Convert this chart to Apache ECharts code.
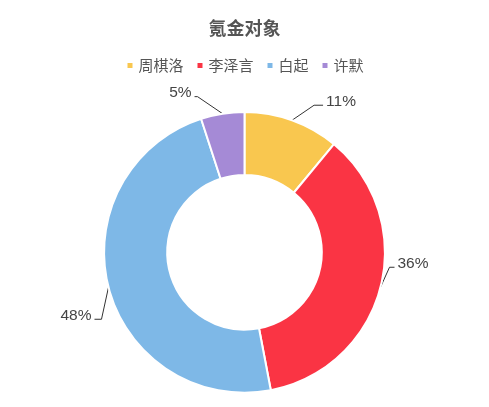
<!DOCTYPE html>
<html lang="zh">
<head>
    <meta charset="UTF-8">
    <title>氪金对象</title>
    <script src="https://cdn.jsdelivr.net/npm/echarts@6/dist/echarts.min.js"></script>
    <style>
        html, body { margin: 0; padding: 0; background: #fff; }
        #main { width: 489px; height: 407px; }
    </style>
</head>
<body>
<div id="main"></div>
<script>
    let names = ['周棋洛', '李泽言', '白起', '许默'];
    let values = [11, 36, 48, 5];
    let colors = ['#F9C74F', '#FA3444', '#7EB8E7', '#A58AD6'];

    // label line bends, [dx, dy, horizontal tail] per slice
    let bends = [[22, -15, 9], [9, -20, 5], [-7, 32, -7], [-25, -17, -3]];

    let chart = echarts.init(document.getElementById('main'));

    let data = names.map((name, i) => {
        return {
            name: name,
            value: values[i]
        }
    });

    let option = {
        color: colors,
        title: {
            text: '氪金对象',
            left: 'center',
            top: 14,
            textStyle: {
                color: '#555',
                fontSize: 18,
                fontWeight: 'bold',
                fontFamily: 'Noto Sans CJK SC'
            }
        },
        legend: {
            top: 53,
            left: 'center',
            icon: 'rect',
            itemWidth: 7,
            itemHeight: 7,
            itemGap: 12,
            textStyle: {
                color: '#555',
                fontSize: 15,
                fontFamily: 'Noto Sans CJK SC'
            },
            data: names
        },
        series: [
            {
                type: 'pie',
                name: '氪金对象',
                center: ['50%', '62%'],
                radius: ['38%', '69%'],
                startAngle: 90,
                itemStyle: {
                    borderColor: '#fff',
                    borderWidth: 2
                },
                label: {
                    formatter: '{d}%',
                    color: '#444',
                    fontSize: 15.5,
                    fontFamily: 'Liberation Sans'
                },
                labelLine: {
                    length: 12,
                    length2: 16,
                    lineStyle: { color: '#333', width: 1 }
                },
                labelLayout: function (params) {
                    let b = bends[params.dataIndex];
                    let p0 = params.labelLinePoints[0];
                    let p1 = [p0[0] + b[0], p0[1] + b[1]];
                    let p2 = [p1[0] + b[2], p1[1]];
                    let right = b[2] > 0;
                    return {
                        x: p2[0] + (right ? 3 : -3),
                        y: p2[1] - 4,
                        align: right ? 'left' : 'right',
                        verticalAlign: 'middle',
                        labelLinePoints: [p0, p1, p2]
                    };
                },
                emphasis: { scale: false },
                data: data
            }
        ]
    };

    chart.setOption(option);
</script>
</body>
</html>
